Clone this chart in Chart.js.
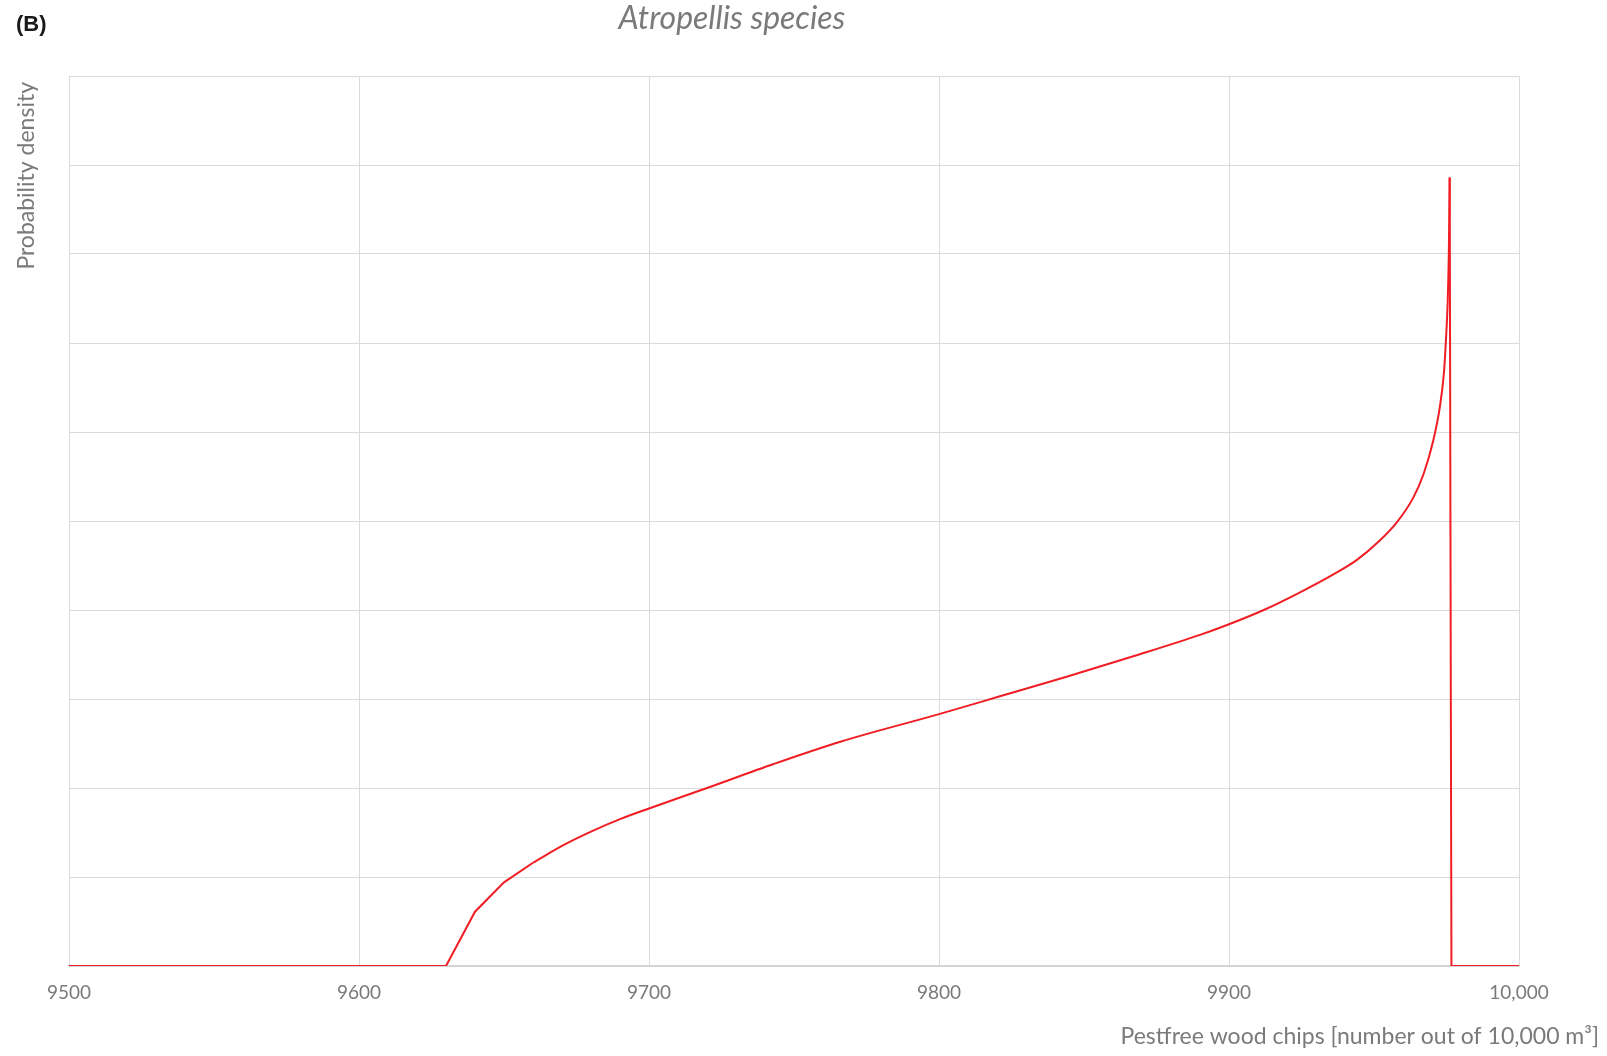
<!DOCTYPE html>
<html>
<head>
<meta charset="utf-8">
<script src="https://cdn.jsdelivr.net/npm/chart.js@4"></script>
<style>
  html, body { margin: 0; padding: 0; background: #fff; }
  #wrap { width: 1607px; height: 1056px; }
</style>
</head>
<body>
<div id="wrap"><canvas id="chart" width="1607" height="1056"></canvas></div>
<script>
// Pestfree wood chips (x) vs probability density (y, arbitrary units = grid lines)
const chipCounts = [9500, 9630, 9640, 9650, 9660, 9670, 9680, 9690, 9700, 9720, 9743, 9766,
  9800, 9821, 9844, 9867, 9890, 9900, 9912, 9924, 9936, 9944, 9952, 9958, 9963.5, 9967,
  9970.4, 9972.7, 9974.1, 9974.8, 9975.4, 9975.8, 9976.1, 9976.7, 10000];
const densities = [0, 0, 0.61, 0.94, 1.16, 1.35, 1.51, 1.65, 1.77, 2.0, 2.27, 2.52,
  2.83, 3.03, 3.25, 3.48, 3.72, 3.84, 4.0, 4.19, 4.4, 4.56, 4.78, 4.99, 5.26, 5.52,
  5.9, 6.28, 6.66, 7.03, 7.45, 8.0, 8.86, 0, 0];

const xTicks = [9500, 9600, 9700, 9800, 9900, 10000];
const panelLabel = '(B)';
const chartTitle = 'Atropellis species';
const xTitle = 'Pestfree wood chips [number out of 10,000 m³]';
const yTitle = 'Probability density';

const FONT = 'Lato, "Open Sans", sans-serif';
const GREY = '#7a7a7a';
const RED = '#f01e24';

// the rising foot is drawn as a polyline, the smooth body as a spline
const toPoints = (from, to) => chipCounts.slice(from, to + 1).map((x, i) => ({ x: x, y: densities[from + i] }));
const bodyStart = chipCounts.indexOf(9660);
const peakIdx = densities.indexOf(Math.max(...densities));

// texts placed around the plot like the Excel export
const labelsPlugin = {
  id: 'labels',
  afterDraw(chart) {
    const ctx = chart.ctx;
    const area = chart.chartArea;
    ctx.save();
    ctx.fillStyle = '#1a1a1a';
    ctx.font = 'bold 22px "Liberation Sans", Arial, sans-serif';
    ctx.textBaseline = 'middle';
    ctx.textAlign = 'left';
    ctx.fillText(panelLabel, 16, 25);

    ctx.fillStyle = GREY;
    ctx.font = 'italic 32px ' + FONT;
    ctx.textAlign = 'center';
    ctx.fillText(chartTitle, 732, 19);

    ctx.font = '23px ' + FONT;
    ctx.textAlign = 'right';
    ctx.fillText(xTitle, 1599, 1037);

    ctx.translate(27, area.top);
    ctx.rotate(-Math.PI / 2);
    ctx.textAlign = 'right';
    ctx.font = '23px ' + FONT;
    ctx.fillText(yTitle, -6, 0);
    ctx.restore();
  }
};

const lineStyle = { borderColor: RED, borderWidth: 2, pointRadius: 0, fill: false };

new Chart(document.getElementById('chart'), {
  type: 'line',
  data: {
    datasets: [
      { ...lineStyle, data: toPoints(0, bodyStart), tension: 0 },
      { ...lineStyle, data: toPoints(bodyStart, peakIdx), cubicInterpolationMode: 'monotone' },
      { ...lineStyle, data: toPoints(peakIdx, chipCounts.length - 1), tension: 0 },
    ]
  },
  options: {
    responsive: false,
    animation: false,
    layout: { padding: { top: 76, right: 88, left: 0, bottom: 0 } },
    plugins: {
      legend: { display: false },
      tooltip: { enabled: false },
    },
    scales: {
      x: {
        type: 'linear',
        min: 9500,
        max: 10000,
        afterBuildTicks: s => { s.ticks = xTicks.map(v => ({ value: v })); },
        ticks: {
          color: GREY,
          font: { family: FONT, size: 19 },
          padding: 15,
          maxRotation: 0,
          callback: v => v >= 10000 ? v.toLocaleString('en-US') : String(v),
        },
        grid: { color: '#dadada', lineWidth: 1, drawTicks: false },
        border: { color: '#d4d4d4', width: 2 },
        afterFit: s => { s.height = 90; },
      },
      y: {
        min: 0,
        max: 10,
        ticks: { display: false, stepSize: 1 },
        grid: { color: '#dadada', lineWidth: 1, drawTicks: false },
        border: { display: false },
        afterFit: s => { s.width = 69; },
      }
    }
  },
  plugins: [labelsPlugin]
});
</script>
</body>
</html>
